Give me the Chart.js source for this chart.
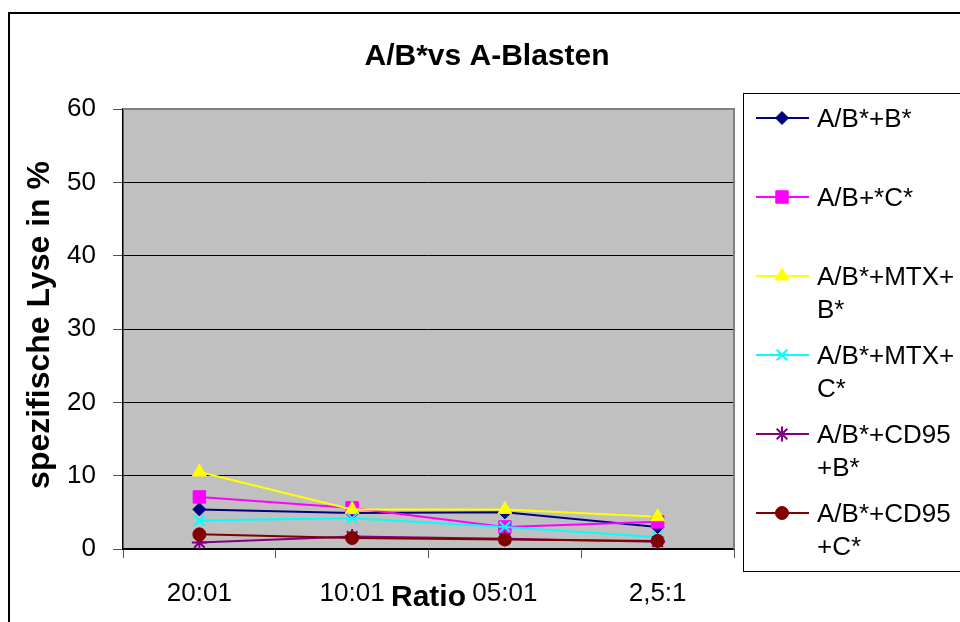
<!DOCTYPE html>
<html>
<head>
<meta charset="utf-8">
<script src="https://cdn.jsdelivr.net/npm/chart.js@4/dist/chart.umd.min.js"></script>
<style>
html,body{margin:0;padding:0;background:#fff;}
#wrap{width:960px;height:622px;position:relative;overflow:hidden;}
canvas{display:block;}
</style>
</head>
<body>
<div id="wrap"><canvas id="c" width="960" height="622"></canvas></div>
<script>
// ---- data ----
const chartTitle = 'A/B*vs A-Blasten';
const xTitle = 'Ratio';
const yTitle = 'spezifische Lyse in %';
const categories = ['20:01', '10:01', '05:01', '2,5:1'];
const seriesNames = ['A/B*+B*', 'A/B+*C*', 'A/B*+MTX+B*', 'A/B*+MTX+C*', 'A/B*+CD95+B*', 'A/B*+CD95+C*'];
const s1 = [5.4, 4.9, 5.0, 3.0];
const s2 = [7.1, 5.6, 3.0, 3.7];
const s3 = [10.5, 5.4, 5.4, 4.4];
const s4 = [3.9, 4.2, 3.0, 1.6];
const s5 = [0.9, 1.7, 1.4, 1.0];
const s6 = [2.0, 1.5, 1.3, 1.1];
const seriesValues = [s1, s2, s3, s4, s5, s6];
const yMin = 0, yMax = 60, yStep = 10;

// ---- styles ----
const FONT = "'Liberation Sans', Arial, Helvetica, sans-serif";
const styles = [
  {color: '#000080', point: 'rectRot', r: 6.5, bw: 1},
  {color: '#FF00FF', point: 'rect', r: 8.8, bw: 1},
  {color: '#FFFF00', point: 'triangle', r: 8, bw: 1},
  {color: '#00FFFF', point: 'crossRot', r: 7.5, bw: 2},
  {color: '#800080', point: 'star', r: 7.5, bw: 2},
  {color: '#800000', point: 'circle', r: 6.5, bw: 1}
];

function wrapText(ctx, text, maxW) {
  const lines = [];
  let rest = text;
  while (rest.length) {
    if (ctx.measureText(rest).width <= maxW) { lines.push(rest); break; }
    let best = -1;
    for (let k = 1; k < rest.length; k++) {
      const okBreak = rest[k] === '+' || rest[k - 1] === '+';
      if (okBreak && ctx.measureText(rest.slice(0, k)).width <= maxW) best = k;
    }
    if (best < 0) { lines.push(rest); break; }
    lines.push(rest.slice(0, best));
    rest = rest.slice(best);
  }
  return lines;
}

function marker(ctx, st, x, y) {
  const opts = {pointStyle: st.point, radius: st.r, rotation: 0, borderWidth: st.bw};
  ctx.save();
  ctx.fillStyle = st.color;
  ctx.strokeStyle = st.color;
  ctx.lineWidth = st.bw;
  if (Chart.helpers && Chart.helpers.drawPoint) {
    Chart.helpers.drawPoint(ctx, opts, x, y);
  } else {
    ctx.beginPath(); ctx.arc(x, y, st.r, 0, Math.PI * 2); ctx.fill();
  }
  ctx.restore();
}

const decor = {
  id: 'decor',
  beforeDraw(chart) {
    const {ctx, chartArea: a} = chart;
    ctx.save();
    ctx.fillStyle = '#fff';
    ctx.fillRect(0, 0, chart.width, chart.height);
    ctx.fillStyle = '#C0C0C0';
    ctx.fillRect(a.left, a.top, a.right - a.left, a.bottom - a.top);
    ctx.restore();
  },
  beforeDatasetsDraw(chart) {
    const {ctx, chartArea: a} = chart;
    ctx.save();
    ctx.strokeStyle = '#808080';
    ctx.lineWidth = 2;
    ctx.beginPath();
    ctx.moveTo(a.left, a.top);
    ctx.lineTo(a.right, a.top);
    ctx.lineTo(a.right, a.bottom);
    ctx.stroke();
    ctx.restore();
  },
  afterDraw(chart) {
    const {ctx, chartArea: a} = chart;
    ctx.save();
    // outer frame
    ctx.strokeStyle = '#000';
    ctx.lineWidth = 2;
    ctx.strokeRect(9, 13, 1000, 1000);
    // title
    ctx.fillStyle = '#000';
    ctx.textAlign = 'center';
    ctx.textBaseline = 'alphabetic';
    ctx.font = 'bold 30px ' + FONT;
    ctx.fillText(chartTitle, 487, 65);
    // x title
    ctx.font = 'bold 30px ' + FONT;
    ctx.fillText(xTitle, (a.left + a.right) / 2, 606);
    // y title
    ctx.save();
    ctx.translate(49, (a.top + a.bottom) / 2 - 4);
    ctx.rotate(-Math.PI / 2);
    ctx.font = 'bold 32px ' + FONT;
    ctx.fillText(yTitle, 0, 0);
    ctx.restore();
    // legend box
    ctx.lineWidth = 1;
    ctx.strokeStyle = '#000';
    ctx.strokeRect(743.5, 93.5, 400, 478);
    ctx.font = '26px ' + FONT;
    ctx.textAlign = 'left';
    chart.data.datasets.forEach((ds, i) => {
      const st = styles[i];
      const y = 118 + 79 * i;
      ctx.strokeStyle = st.color;
      ctx.lineWidth = 2;
      ctx.beginPath();
      ctx.moveTo(756, y);
      ctx.lineTo(809, y);
      ctx.stroke();
      marker(ctx, st, 782, y);
      ctx.fillStyle = '#000';
      const lines = wrapText(ctx, ds.label, 140);
      lines.forEach((ln, j) => ctx.fillText(ln, 817, y + 9 + j * 32.5));
    });
    ctx.restore();
  }
};

const datasets = seriesValues.map((vals, i) => ({
  label: seriesNames[i],
  data: vals,
  borderColor: styles[i].color,
  backgroundColor: styles[i].color,
  pointBackgroundColor: styles[i].color,
  pointBorderColor: styles[i].color,
  pointStyle: styles[i].point,
  pointRadius: styles[i].r,
  pointBorderWidth: styles[i].bw,
  borderWidth: 2,
  tension: 0,
  fill: false,
  order: seriesValues.length - 1 - i
}));

new Chart(document.getElementById('c'), {
  type: 'line',
  data: {labels: categories, datasets},
  options: {
    responsive: false,
    animation: false,
    devicePixelRatio: 1,
    layout: {padding: {left: 0, top: 109, right: 226, bottom: 0}},
    plugins: {legend: {display: false}, title: {display: false}, tooltip: {enabled: false}},
    scales: {
      x: {
        offset: true,
        grid: {offset: true, drawOnChartArea: false, drawTicks: true, tickLength: 9, tickColor: '#555', tickWidth: 1},
        border: {color: '#000', width: 1.5},
        ticks: {font: {family: FONT, size: 26}, color: '#000', padding: 20, maxRotation: 0, autoSkip: false},
        afterFit(s) { s.height = 73; }
      },
      y: {
        min: yMin, max: yMax,
        grid: {
          color: c => (c.tick && c.tick.value === yMax) ? '#808080' : '#000',
          lineWidth: 1, tickLength: 10, tickColor: '#555', tickWidth: 1
        },
        border: {color: '#000', width: 1.5},
        ticks: {stepSize: yStep, font: {family: FONT, size: 26}, color: '#000', padding: 17},
        afterFit(s) { s.width = 123; }
      }
    }
  },
  plugins: [decor]
});
</script>
</body>
</html>
